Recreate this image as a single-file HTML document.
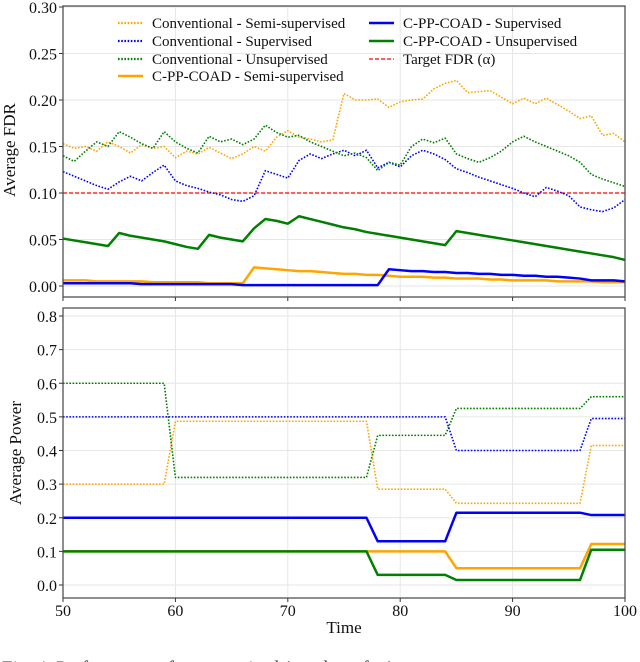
<!DOCTYPE html>
<html><head><meta charset="utf-8">
<style>
html,body{margin:0;padding:0;background:#fff;}
svg{display:block;font-family:"Liberation Serif","DejaVu Serif",serif;}
</style></head>
<body>
<svg id="chart" width="640" height="662" viewBox="0 0 640 662" xmlns="http://www.w3.org/2000/svg"></svg>
<script>
const times = [];
for (let t = 50; t <= 100; t++) times.push(t);
const xTicks = [50,60,70,80,90,100];
const fdrTicks = [0,0.05,0.10,0.15,0.20,0.25,0.30];
const fdrTickLabels = ["0.00","0.05","0.10","0.15","0.20","0.25","0.30"];
const powTicks = [0,0.1,0.2,0.3,0.4,0.5,0.6,0.7,0.8];
const powTickLabels = ["0.0","0.1","0.2","0.3","0.4","0.5","0.6","0.7","0.8"];

const fdrConvSemi = [0.153,0.148,0.150,0.145,0.155,0.150,0.143,0.152,0.148,0.150,0.138,0.145,0.142,0.149,0.143,0.137,0.142,0.150,0.145,0.160,0.167,0.160,0.158,0.155,0.157,0.207,0.200,0.200,0.201,0.192,0.198,0.200,0.201,0.212,0.218,0.221,0.208,0.209,0.210,0.203,0.196,0.202,0.196,0.202,0.195,0.188,0.180,0.183,0.162,0.164,0.155];
const fdrConvSup = [0.123,0.118,0.113,0.108,0.104,0.112,0.118,0.113,0.122,0.130,0.113,0.108,0.105,0.101,0.098,0.093,0.091,0.097,0.124,0.120,0.116,0.135,0.142,0.137,0.142,0.146,0.140,0.146,0.127,0.133,0.128,0.140,0.146,0.142,0.136,0.126,0.122,0.117,0.113,0.109,0.105,0.100,0.096,0.106,0.102,0.097,0.085,0.082,0.080,0.084,0.093];
const fdrConvUnsup = [0.140,0.134,0.145,0.155,0.150,0.166,0.160,0.153,0.148,0.166,0.155,0.148,0.143,0.161,0.155,0.158,0.152,0.158,0.173,0.165,0.160,0.162,0.155,0.150,0.145,0.140,0.143,0.138,0.124,0.133,0.130,0.150,0.158,0.154,0.159,0.142,0.137,0.133,0.138,0.145,0.155,0.161,0.155,0.150,0.145,0.140,0.133,0.120,0.115,0.111,0.107];
const fdrCppSemi = [0.006,0.006,0.006,0.005,0.005,0.005,0.005,0.005,0.004,0.004,0.004,0.004,0.004,0.003,0.003,0.003,0.003,0.020,0.019,0.018,0.017,0.016,0.016,0.015,0.014,0.013,0.013,0.012,0.012,0.011,0.010,0.010,0.010,0.009,0.009,0.008,0.008,0.008,0.007,0.007,0.006,0.006,0.006,0.006,0.005,0.005,0.005,0.005,0.004,0.004,0.004];
const fdrCppSup = [0.003,0.003,0.003,0.003,0.003,0.003,0.003,0.002,0.002,0.002,0.002,0.002,0.002,0.002,0.002,0.002,0.001,0.001,0.001,0.001,0.001,0.001,0.001,0.001,0.001,0.001,0.001,0.001,0.001,0.018,0.017,0.016,0.016,0.015,0.015,0.014,0.014,0.013,0.013,0.012,0.012,0.011,0.011,0.010,0.010,0.009,0.008,0.006,0.006,0.006,0.005];
const fdrCppUnsup = [0.051,0.049,0.047,0.045,0.043,0.057,0.054,0.052,0.050,0.048,0.045,0.042,0.040,0.055,0.052,0.050,0.048,0.062,0.072,0.070,0.067,0.075,0.072,0.069,0.066,0.063,0.061,0.058,0.056,0.054,0.052,0.050,0.048,0.046,0.044,0.059,0.057,0.055,0.053,0.051,0.049,0.047,0.045,0.043,0.041,0.039,0.037,0.035,0.033,0.031,0.028];
const targetFdr = 0.10;

function steps(segs){const a=[];segs.forEach(s=>{for(let i=0;i<s[0];i++)a.push(s[1]);});return a;}
const powConvSemi = steps([[10,0.30],[18,0.487],[7,0.285],[12,0.243],[4,0.415]]);
const powConvSup = steps([[35,0.50],[12,0.40],[4,0.495]]);
const powConvUnsup = steps([[10,0.60],[18,0.32],[7,0.445],[12,0.525],[4,0.56]]);
const powCppSemi = steps([[35,0.10],[12,0.05],[4,0.122]]);
const powCppSup = steps([[28,0.20],[7,0.13],[12,0.215],[4,0.208]]);
const powCppUnsup = steps([[28,0.10],[7,0.03],[12,0.015],[4,0.105]]);

const NS='http://www.w3.org/2000/svg';
const svg=document.getElementById('chart');
function mk(tag,attrs,parent){const e=document.createElementNS(NS,tag);for(const k in attrs)e.setAttribute(k,attrs[k]);(parent||svg).appendChild(e);return e;}
const X0=63,X1=625;
const xs=t=>X0+(t-50)/50*(X1-X0);
const pTop={y0:286,y1:7,vmin:0,vmax:0.30,frameT:6,frameB:297};
const pBot={y0:585,y1:316,vmin:0,vmax:0.8,frameT:308,frameB:598};
const ys=(p,v)=>p.y0+(v-p.vmin)/(p.vmax-p.vmin)*(p.y1-p.y0);

const ORANGE='#ffa500',BLUE='#0000ff',GREEN='#008000';

function panel(p,ticks,labels,name,ylabel,ylabelY,showX){
  const g=mk('g',{});
  
  
  xTicks.forEach(t=>{const l=mk('line',{x1:xs(t),x2:xs(t),y1:p.frameT,y2:p.frameB,stroke:'#e6e6e6','stroke-width':1},g);});
  ticks.forEach((v,i)=>{const y=ys(p,v);
    const l=mk('line',{x1:X0,x2:X1,y1:y,y2:y,stroke:'#e6e6e6','stroke-width':1},g);
    mk('line',{x1:X0-4,x2:X0,y1:y,y2:y,stroke:'#333','stroke-width':1},g);
    const tx=mk('text',{x:X0-6,y:y+6,'text-anchor':'end','font-size':16,fill:'#111'},g);tx.textContent=labels[i];
    });
  xTicks.forEach(t=>{mk('line',{x1:xs(t),x2:xs(t),y1:p.frameB,y2:p.frameB+4,stroke:'#333','stroke-width':1},g);
    if(showX){const tx=mk('text',{x:xs(t),y:p.frameB+18,'text-anchor':'middle','font-size':16,fill:'#111'},g);tx.textContent=t;
    }});
  const yl=mk('text',{x:0,y:0,transform:`translate(${ylabel[1]},${ylabelY}) rotate(-90)`,'text-anchor':'middle','font-size':17,fill:'#111'},g);
  yl.textContent=ylabel[0];
  return g;
}
function series(p,vals,color,w,dash,name){
  const d=vals.map((v,i)=>(i?'L':'M')+xs(times[i]).toFixed(2)+','+ys(p,v).toFixed(2)).join('');
  const a={d:d,fill:'none',stroke:color,'stroke-width':w,'stroke-linejoin':'round'};
  if(dash)a['stroke-dasharray']=dash;
  const e=mk('path',a);
  
  
}
function frame(p,name){const r=mk('rect',{x:X0,y:p.frameT,width:X1-X0,height:p.frameB-p.frameT,fill:'none',stroke:'#444','stroke-width':1.2});
  }

panel(pTop,fdrTicks,fdrTickLabels,'fdr-axes',['Average FDR',15],150,false);
const ty=ys(pTop,targetFdr);
const tl=mk('line',{x1:X0,x2:X1,y1:ty,y2:ty,stroke:'#ff0000','stroke-width':1.2,'stroke-dasharray':'4 2'});

const DOT='1.6 1.6';
series(pTop,fdrConvSemi,ORANGE,1.6,DOT,'fdr-conventional-semi-supervised');
series(pTop,fdrConvSup,BLUE,1.6,DOT,'fdr-conventional-supervised');
series(pTop,fdrConvUnsup,GREEN,1.6,DOT,'fdr-conventional-unsupervised');
series(pTop,fdrCppUnsup,GREEN,2.5,null,'fdr-cppcoad-unsupervised');
series(pTop,fdrCppSemi,ORANGE,2.5,null,'fdr-cppcoad-semi-supervised');
series(pTop,fdrCppSup,BLUE,2.5,null,'fdr-cppcoad-supervised');
frame(pTop,'fdr-frame');

panel(pBot,powTicks,powTickLabels,'power-axes',['Average Power',21],453,true);
series(pBot,powConvUnsup,GREEN,1.6,DOT,'power-conventional-unsupervised');
series(pBot,powConvSup,BLUE,1.6,DOT,'power-conventional-supervised');
series(pBot,powConvSemi,ORANGE,1.6,DOT,'power-conventional-semi-supervised');
series(pBot,powCppSup,BLUE,2.5,null,'power-cppcoad-supervised');
series(pBot,powCppSemi,ORANGE,2.5,null,'power-cppcoad-semi-supervised');
series(pBot,powCppUnsup,GREEN,2.5,null,'power-cppcoad-unsupervised');
frame(pBot,'power-frame');

const xt=mk('text',{x:344,y:633,'text-anchor':'middle','font-size':17,fill:'#111'});
xt.textContent='Time';

const legend=[
 [118,23,ORANGE,2.2,DOT,'Conventional - Semi-supervised'],
 [118,41,BLUE,2.2,DOT,'Conventional - Supervised'],
 [118,59,GREEN,2.2,DOT,'Conventional - Unsupervised'],
 [118,76,ORANGE,2.5,null,'C-PP-COAD - Semi-supervised'],
 [369,23,BLUE,2.5,null,'C-PP-COAD - Supervised'],
 [369,41,GREEN,2.5,null,'C-PP-COAD - Unsupervised'],
 [369,59,'#ff0000',1.2,'4 2','Target FDR (\u03B1)']
];
const lg=mk('g',{});


legend.forEach(e=>{
 const a={x1:e[0],x2:e[0]+25,y1:e[1],y2:e[1],stroke:e[2],'stroke-width':e[3]};
 if(e[4])a['stroke-dasharray']=e[4];
 mk('line',a,lg);
 const t=mk('text',{x:e[0]+34,y:e[1]+5,'font-size':15,fill:'#111'},lg);
 t.textContent=e[5];
 
 
});
const cap=mk('text',{x:2,y:674,'font-size':19,fill:'#333'});
cap.textContent='Fig. 4: Performance of ... supervised (number of ...)';


</script>
</body></html>
